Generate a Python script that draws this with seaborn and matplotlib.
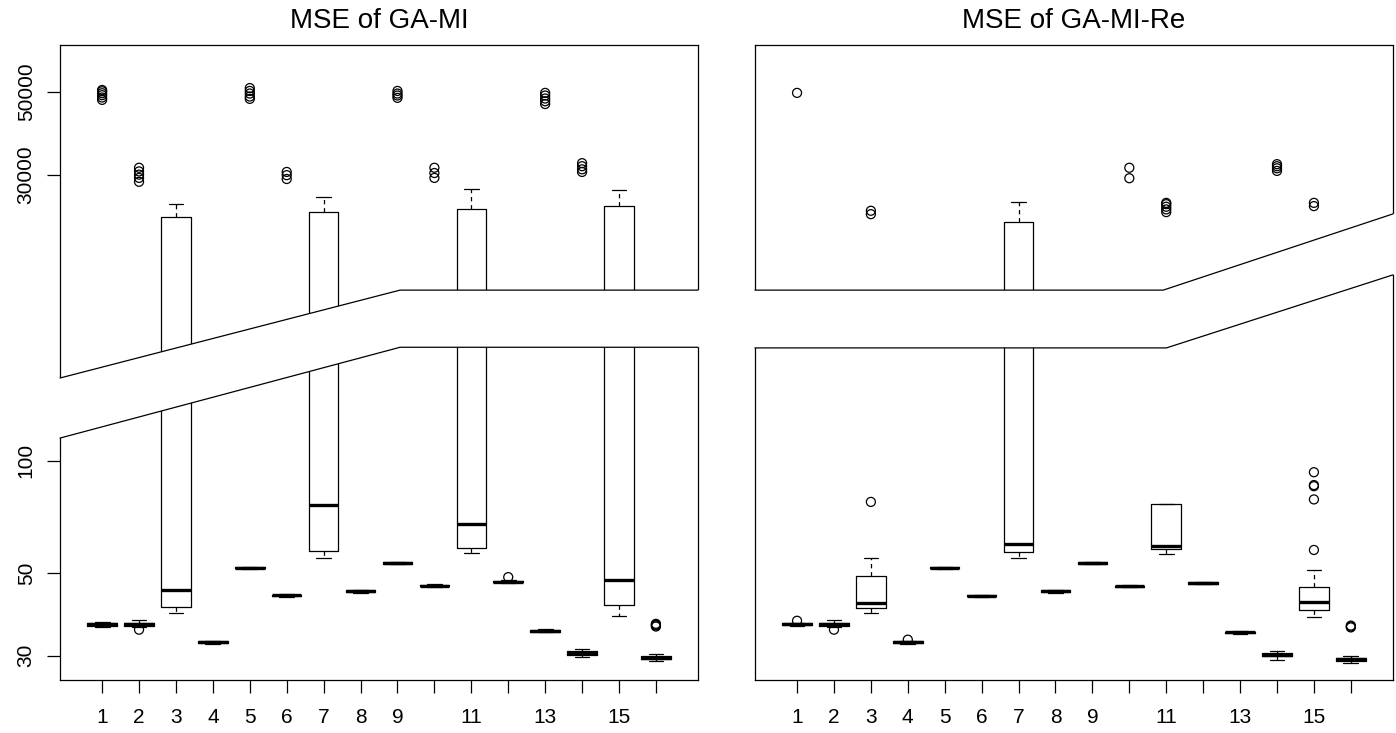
import numpy as np
import pandas as pd
import matplotlib
matplotlib.use("Agg")
import matplotlib.pyplot as plt
from matplotlib.patches import Polygon
import seaborn as sns

# --- datos ---
groups = list(range(1, 17))
x_labels = ["1", "2", "3", "4", "5", "6", "7", "8", "9", "", "11", "", "13", "", "15", ""]
y_ticks = [30, 50, 100, 30000, 50000]
y_tick_labels = ["30", "50", "100", "30000", "50000"]

# MSE of GA-MI
mi_wlo = [35.9, 35.8, 39.0, 32.3, 51.2, 43.2, 54.9, 44.2, 52.7, 45.9, 56.7, 47.0, 34.7, 29.7, 38.4, 29.0]
mi_q1 = [36.1, 36.1, 40.6, 32.5, 51.4, 43.3, 57.3, 44.4, 52.9, 46.0, 58.4, 47.2, 34.8, 30.2, 41.0, 29.3]
mi_med = [36.4, 36.5, 45.0, 32.6, 51.5, 43.5, 76.2, 44.6, 53.1, 46.2, 67.8, 47.4, 35.0, 30.5, 47.9, 29.6]
mi_q3 = [36.7, 36.8, 23100, 32.8, 51.7, 43.6, 23870, 44.9, 53.4, 46.4, 24230, 47.6, 35.2, 30.8, 24700, 29.9]
mi_whi = [36.9, 37.4, 25040, 32.9, 51.9, 43.8, 26150, 45.1, 53.6, 46.6, 27500, 47.8, 35.4, 31.2, 27200, 30.3]
mi_fliers = [
    [47600, 48300, 49000, 49600, 50200, 50600],
    [35.2, 28700, 29400, 30000, 30600, 31300],
    [],
    [],
    [47900, 48600, 49500, 50300, 51200],
    [29200, 29900, 30500],
    [],
    [],
    [48200, 48900, 49500, 50300],
    [29400, 30300, 31300],
    [],
    [48.7],
    [46400, 47200, 48000, 48900, 49700],
    [30500, 31000, 31600, 32200],
    [],
    [35.9, 36.1, 36.3, 36.5],
]

# MSE of GA-MI-Re
re_wlo = [36.0, 35.8, 39.0, 32.3, 51.2, 43.1, 54.9, 44.2, 52.7, 45.7, 56.1, 46.6, 34.3, 29.2, 38.0, 28.6]
re_q1 = [36.2, 36.1, 40.3, 32.5, 51.4, 43.3, 57.0, 44.4, 52.9, 45.8, 57.9, 46.8, 34.4, 29.9, 39.8, 29.0]
re_med = [36.4, 36.5, 41.5, 32.6, 51.5, 43.4, 59.8, 44.6, 53.1, 46.0, 58.9, 47.0, 34.6, 30.2, 41.7, 29.3]
re_q3 = [36.6, 36.8, 48.9, 32.8, 51.7, 43.5, 22450, 44.9, 53.4, 46.2, 76.6, 47.2, 34.8, 30.5, 45.7, 29.6]
re_whi = [36.8, 37.4, 54.7, 32.9, 51.9, 43.7, 25300, 45.1, 53.6, 46.4, 76.6, 47.4, 35.0, 30.8, 50.9, 29.9]
re_fliers = [
    [37.2, 49700],
    [35.2],
    [77.5, 23500, 24000],
    [33.1],
    [],
    [],
    [],
    [],
    [],
    [29340, 31300],
    [23800, 24200, 24600, 25000, 25200],
    [],
    [],
    [30700, 31200, 31600, 32000],
    [57.6, 78.7, 85.4, 86.0, 93.1, 24700, 25200],
    [35.7, 35.9, 36.1],
]

# eje log con un hueco: los valores grandes se bajan
GAP_CUT = 1000
GAP_SHIFT = 1.71


def ypos(v):
    v = np.asarray(v, dtype=float)
    return np.where(v > GAP_CUT, np.log10(v) - GAP_SHIFT, np.log10(v))


def box_stats(wlo, q1, med, q3, whi):
    stats = []
    for a, b, c, d, e in zip(wlo, q1, med, q3, whi):
        stats.append(dict(whislo=float(ypos(a)), q1=float(ypos(b)), med=float(ypos(c)),
                          q3=float(ypos(d)), whishi=float(ypos(e)), fliers=[]))
    return stats


def draw_panel(ax, title, stats, fliers, brk_upper, brk_lower, show_y):
    line_kw = dict(color="black", linewidth=0.9)
    ax.bxp(stats, positions=groups, widths=0.8, capwidths=0.4, showfliers=False,
           boxprops=line_kw, capprops=line_kw,
           whiskerprops=dict(color="black", linewidth=0.9, linestyle=(0, (3.5, 3))),
           medianprops=dict(color="black", linewidth=2.4, solid_capstyle="butt"),
           manage_ticks=False)

    rows = [(g, v) for g, vals in zip(groups, fliers) for v in vals]
    df = pd.DataFrame(rows, columns=["group", "value"])
    df["pos"] = ypos(df["value"])
    sns.scatterplot(data=df, x="group", y="pos", ax=ax, marker="o", s=42,
                    facecolors="none", edgecolor="black", linewidth=0.9,
                    legend=False, zorder=3)

    ax.set_xlim(-0.14, 17.14)
    ax.set_ylim(float(ypos(25.8)), float(ypos(66800)))
    ax.set_xticks(groups, x_labels)
    if show_y:
        ax.set_yticks(ypos(y_ticks), y_tick_labels, rotation=90, va="center")
    else:
        ax.set_yticks([])
    ax.tick_params(axis="x", bottom=True, direction="out", length=9.5, width=0.9,
                   labelsize=15, pad=11, color="black", labelcolor="black")
    ax.tick_params(axis="y", left=show_y, direction="out", length=9.5, width=0.9,
                   labelsize=15, pad=8, color="black", labelcolor="black")
    ax.set_xlabel("")
    ax.set_ylabel("")
    for sp in ax.spines.values():
        sp.set_visible(True)
        sp.set_color("black")
        sp.set_linewidth(0.9)
    ax.set_title(title, fontsize=20, pad=12, color="black")

    # banda blanca del corte del eje
    poly = [(-0.006, brk_upper[0][1])] + brk_upper + [(1.006, brk_upper[-1][1])]
    poly += [(1.006, brk_lower[-1][1])] + brk_lower[::-1] + [(-0.006, brk_lower[0][1])]
    ax.add_patch(Polygon(poly, closed=True, transform=ax.transAxes, facecolor="white",
                         edgecolor="none", zorder=4, clip_on=False))
    for edge in (brk_upper, brk_lower):
        xs, ys = zip(*edge)
        ax.plot(xs, ys, transform=ax.transAxes, color="black", linewidth=0.9,
                zorder=5, clip_on=False)


sns.set_style("white")
plt.rcParams["font.family"] = ["Liberation Sans", "DejaVu Sans"]
plt.rcParams["text.color"] = "black"

fig = plt.figure(figsize=(13.96, 7.33), dpi=100)
ax1 = fig.add_axes([0.0430, 0.0723, 0.4570, 0.8663])
ax2 = fig.add_axes([0.5408, 0.0723, 0.4570, 0.8663])

draw_panel(ax1, "MSE of GA-MI", box_stats(mi_wlo, mi_q1, mi_med, mi_q3, mi_whi), mi_fliers,
           [(0.0, 0.4756), (0.533, 0.614), (1.0, 0.614)],
           [(0.0, 0.381), (0.533, 0.524), (1.0, 0.524)], True)
draw_panel(ax2, "MSE of GA-MI-Re", box_stats(re_wlo, re_q1, re_med, re_q3, re_whi), re_fliers,
           [(0.0, 0.614), (0.64, 0.614), (1.0, 0.734)],
           [(0.0, 0.523), (0.645, 0.523), (1.0, 0.638)], False)

fig.savefig("out.png", dpi=100)
plt.close(fig)
